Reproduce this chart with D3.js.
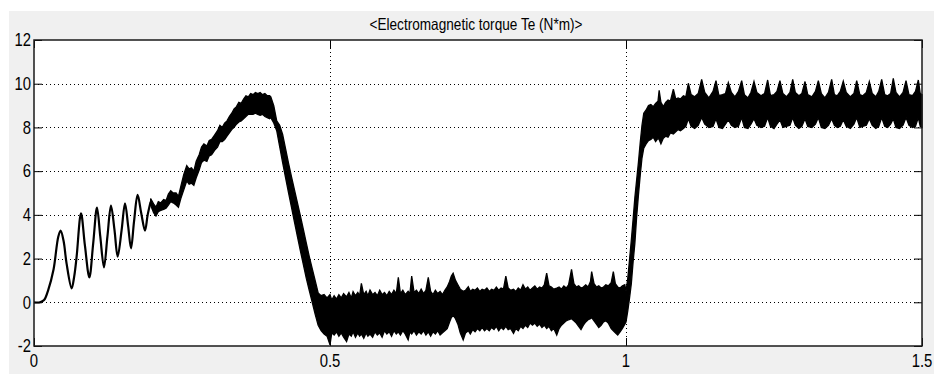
<!DOCTYPE html>
<html><head><meta charset="utf-8">
<script src="https://cdn.jsdelivr.net/npm/d3@7"></script>
<style>
html,body{margin:0;padding:0;background:#fff;}
svg{display:block;}
text{font-family:"Liberation Sans",Arial,sans-serif;fill:#000;}
</style></head>
<body>
<svg id="c" width="934" height="374"></svg>
<script>
// ---- data ----
const titleText = "<Electromagnetic torque Te (N*m)>";
const xTicks = [0, 0.5, 1, 1.5];
const xTickLabels = ["0", "0.5", "1", "1.5"];
const yTicks = [-2, 0, 2, 4, 6, 8, 10, 12];
const yTickLabels = ["-2", "0", "2", "4", "6", "8", "10", "12"];

// clean start-up oscillation (single trace)
const startT = [0, 0.010, 0.017, 0.024, 0.033, 0.041, 0.045, 0.050, 0.055, 0.0636, 0.068, 0.072, 0.0794, 0.086, 0.0935, 0.100, 0.1064, 0.112, 0.1182, 0.124, 0.130, 0.136, 0.1413, 0.148, 0.1537, 0.159, 0.1639, 0.169, 0.175, 0.181, 0.1875, 0.192, 0.197];
const startV = [0, 0, 0.10, 0.56, 1.50, 3.00, 3.28, 2.80, 1.78, 0.64, 1.20, 2.09, 4.07, 2.60, 1.14, 2.70, 4.33, 3.00, 1.60, 3.00, 4.42, 3.30, 2.09, 3.30, 4.53, 3.50, 2.47, 3.70, 4.91, 4.10, 3.28, 4.00, 4.60];

// noisy band: time, upper envelope, lower envelope
const bandT = [
0.197,0.202,0.206,0.210,0.214,0.219,0.223,0.227,0.231,0.235,0.240,0.244,0.248,0.253,0.258,0.262,0.266,0.270,0.274,0.279,0.283,0.287,0.292,0.296,0.300,0.305,0.310,0.314,0.318,0.322,0.326,0.330,0.334,0.338,0.342,0.346,0.350,0.354,0.358,0.362,0.366,0.370,0.374,0.378,0.382,0.386,0.390,0.394,0.398,
0.400,0.405,0.410,0.415,0.420,0.425,0.430,0.435,0.440,0.445,0.450,0.455,0.460,0.465,0.470,0.475,0.480,0.485,0.490,
0.495,0.500,0.503,0.507,0.511,0.515,0.519,0.523,0.528,0.532,0.536,0.539,0.543,0.547,0.550,0.553,0.557,0.561,0.564,0.5676,0.572,0.576,0.580,0.584,0.588,0.592,0.596,0.600,0.604,0.608,0.612,0.6154,0.619,0.623,0.627,0.632,0.635,0.638,0.642,0.646,0.650,0.654,0.658,0.662,0.666,0.670,0.674,0.678,0.682,0.686,0.690,0.694,0.698,0.702,0.705,0.708,0.712,0.716,0.720,0.725,0.729,0.7336,0.737,0.741,0.745,0.749,0.753,0.757,0.761,0.765,0.769,0.773,0.777,0.781,0.785,0.789,0.793,0.797,0.801,0.805,0.810,0.814,0.818,0.822,0.826,0.830,0.834,0.838,0.842,0.846,0.850,0.854,0.858,0.862,0.866,0.870,0.874,0.878,0.883,0.887,0.891,0.895,0.899,0.903,0.908,0.912,0.916,0.920,0.924,0.928,0.932,0.936,0.940,0.942,0.946,0.950,0.954,0.958,0.962,0.966,0.970,0.975,0.9786,0.982,0.986,0.990,0.994,0.998,
1.000,1.003,1.006,1.009,1.012,1.015,1.018,1.021,1.024,1.027,1.030,1.034,1.038,1.042,1.046,1.050,1.054,1.056,1.059,1.063,1.067,1.071,1.075,1.080,1.084,1.088,1.092,1.097,1.101,
1.1053,1.110,1.116,1.122,1.1278,1.133,1.140,1.147,1.152,1.157,1.163,1.168,1.1728,1.178,1.184,1.190,1.1954,1.200,1.206,1.211,1.2162,1.221,1.228,1.234,1.2393,1.244,1.250,1.255,1.260,1.265,1.271,1.277,1.2816,1.286,1.292,1.297,1.3024,1.307,1.314,1.320,1.3249,1.330,1.336,1.342,1.3474,1.352,1.357,1.362,1.367,1.372,1.379,1.385,1.3897,1.395,1.400,1.406,1.411,1.416,1.422,1.427,1.4319,1.437,1.442,1.447,1.4515,1.456,1.462,1.468,1.473,1.478,1.484,1.489,1.4938,1.497,1.500];
const bandUpper = [
4.75,4.50,4.35,4.60,4.55,4.70,4.65,4.95,5.10,5.00,5.00,4.85,5.30,5.85,6.25,6.10,6.15,6.00,6.45,6.75,7.10,7.25,7.15,7.40,7.45,7.65,7.85,8.10,8.00,8.20,8.30,8.50,8.65,8.85,8.95,9.15,9.10,9.30,9.45,9.40,9.55,9.50,9.60,9.55,9.60,9.50,9.55,9.45,9.45,
9.40,9.00,8.30,8.10,7.68,7.02,6.36,5.74,5.14,4.55,3.95,3.33,2.71,2.09,1.54,0.99,0.43,0.30,0.35,
0.20,0.35,0.10,0.30,0.15,0.35,0.20,0.40,0.25,0.45,0.20,0.49,0.30,0.45,0.30,0.87,0.35,0.50,0.30,0.56,0.35,0.45,0.30,0.55,0.35,0.45,0.30,0.50,0.35,0.55,0.40,1.14,0.40,0.55,0.35,0.50,0.40,1.20,0.45,0.55,0.40,0.60,0.40,0.55,1.14,0.50,0.35,0.55,0.40,0.50,0.35,0.55,0.70,0.95,1.20,1.33,1.00,0.80,0.60,0.50,0.55,0.71,0.50,0.60,0.55,0.65,0.50,0.60,0.55,0.65,0.50,0.60,0.55,0.70,0.55,0.65,0.60,1.20,0.65,0.55,0.60,0.50,0.65,0.55,0.80,0.60,0.70,0.55,0.65,0.75,0.60,0.70,0.65,0.80,1.33,0.75,0.70,0.60,0.65,0.70,0.60,0.75,0.65,0.80,1.51,0.85,0.70,0.75,0.65,0.70,0.80,0.70,0.95,1.40,0.85,0.70,0.75,0.65,0.70,0.80,0.75,0.90,1.40,0.85,0.70,0.65,0.75,0.80,
0.50,1.10,1.95,2.85,3.80,4.80,5.60,6.40,7.30,8.10,8.65,8.80,9.00,9.05,8.95,9.10,9.20,9.70,9.15,8.95,9.15,9.25,9.20,9.75,9.30,9.35,9.30,9.45,9.40,
10.02,9.50,9.40,9.55,10.20,9.60,9.35,9.65,10.14,9.45,9.50,9.55,10.05,9.60,9.40,9.65,10.14,9.50,9.35,9.60,10.10,9.60,9.45,9.55,10.17,9.45,9.50,9.65,10.14,9.55,9.40,9.60,10.20,9.60,9.45,9.55,10.10,9.50,9.40,9.65,10.14,9.55,9.35,9.60,10.20,9.50,9.45,9.65,10.12,9.60,9.40,9.55,10.14,9.50,9.45,9.60,10.10,9.55,9.40,9.65,10.20,9.50,9.45,9.55,10.25,9.60,9.40,9.60,10.14,9.50,9.45,9.65,10.17,9.55,9.50];
const bandLower = [
4.45,4.10,3.95,4.15,4.20,4.25,4.30,4.45,4.60,4.55,4.45,4.35,4.75,5.15,5.55,5.40,5.45,5.35,5.70,6.05,6.40,6.50,6.45,6.70,6.75,6.95,7.10,7.35,7.35,7.45,7.60,7.75,7.90,8.00,8.15,8.25,8.30,8.40,8.50,8.60,8.60,8.60,8.65,8.60,8.55,8.60,8.50,8.45,8.40,
8.45,8.20,7.85,7.12,6.39,5.69,5.01,4.34,3.67,3.01,2.35,1.72,1.09,0.54,0.00,-0.55,-1.05,-1.30,-1.45,
-1.55,-1.95,-1.40,-1.50,-1.35,-1.55,-1.40,-1.60,-1.80,-1.45,-1.55,-1.35,-1.60,-1.40,-1.55,-1.45,-1.65,-1.40,-1.55,-1.45,-1.60,-1.35,-1.50,-1.40,-1.60,-1.30,-1.45,-1.35,-1.55,-1.30,-1.45,-1.35,-1.50,-1.30,-1.45,-1.72,-1.35,-1.45,-1.30,-1.50,-1.35,-1.45,-1.30,-1.50,-1.35,-1.55,-1.35,-1.45,-1.30,-1.50,-1.40,-1.30,-1.20,-0.90,-0.70,-0.60,-0.75,-1.00,-1.40,-1.72,-1.40,-1.30,-1.45,-1.25,-1.35,-1.20,-1.30,-1.15,-1.30,-1.20,-1.30,-1.15,-1.25,-1.10,-1.30,-1.15,-1.25,-1.10,-1.25,-1.20,-1.42,-1.20,-1.30,-1.10,-1.20,-1.05,-1.15,-0.95,-1.05,-0.95,-1.10,-1.00,-1.15,-1.05,-1.20,-1.10,-1.30,-1.20,-1.50,-1.20,-1.05,-0.95,-0.85,-0.80,-0.75,-0.85,-0.95,-1.10,-1.25,-1.05,-0.90,-0.80,-0.75,-0.70,-0.85,-1.00,-1.15,-1.05,-0.90,-0.85,-0.95,-1.20,-1.30,-1.40,-1.50,-1.35,-1.20,-1.00,
-0.90,-0.40,0.20,0.85,1.85,2.70,3.92,4.90,5.80,6.60,7.05,7.25,7.40,7.45,7.55,7.35,7.50,7.45,7.25,7.50,7.60,7.55,7.75,7.70,7.80,7.90,7.85,7.95,8.05,
8.40,8.05,7.95,8.10,8.45,8.15,8.00,8.05,8.40,8.00,7.95,8.15,8.35,8.10,8.00,8.05,8.45,8.00,7.95,8.15,8.40,8.10,8.00,8.05,8.45,8.05,7.95,8.15,8.35,8.00,8.05,8.10,8.45,8.10,7.95,8.05,8.40,8.05,8.00,8.15,8.45,8.00,7.95,8.10,8.40,8.10,8.00,8.05,8.35,8.05,7.95,8.15,8.45,8.00,8.05,8.10,8.40,8.10,7.95,8.05,8.45,8.05,8.00,8.15,8.40,8.00,7.95,8.10,8.45,8.10,8.00,8.05,8.45,8.05,8.00];

// ---- layout ----
const svg = d3.select("#c");
const L = 34, R = 922, T = 40, B = 346;
const x = d3.scaleLinear().domain([0, 1.5]).range([L, R]);
const y = d3.scaleLinear().domain([-2, 12]).range([B, T]);

svg.append("rect").attr("x", 9).attr("y", 11).attr("width", 925).attr("height", 363).attr("fill", "#f0f0f0");
svg.append("rect").attr("x", L).attr("y", T).attr("width", R - L).attr("height", B - T).attr("fill", "#fff");

svg.append("text").attr("x", 476).attr("y", 30).attr("text-anchor", "middle")
  .attr("font-size", 16.5).attr("textLength", 213).attr("lengthAdjust", "spacingAndGlyphs").text(titleText);

// grid
const grid = svg.append("g").attr("stroke", "#000").attr("stroke-width", 1).attr("stroke-dasharray", "1,3");
grid.selectAll("line.gy").data(yTicks.filter(d => d > -2 && d < 12)).join("line")
  .attr("x1", L).attr("x2", R).attr("y1", d => Math.round(y(d)) + 0.5).attr("y2", d => Math.round(y(d)) + 0.5);
grid.selectAll("line.gx").data(xTicks.filter(d => d > 0 && d < 1.5)).join("line")
  .attr("x1", d => Math.round(x(d)) + 0.5).attr("x2", d => Math.round(x(d)) + 0.5).attr("y1", T).attr("y2", B);

// ticks (axes inward, on all four sides)
const tk = 8;
const yAxisL = d3.axisRight(y).tickValues(yTicks).tickSize(tk).tickFormat("");
const yAxisR = d3.axisLeft(y).tickValues(yTicks).tickSize(tk).tickFormat("");
const xAxisB = d3.axisTop(x).tickValues(xTicks).tickSize(tk).tickFormat("");
const xAxisT = d3.axisBottom(x).tickValues(xTicks).tickSize(tk).tickFormat("");
[[yAxisL, `translate(${L},0)`], [yAxisR, `translate(${R},0)`], [xAxisB, `translate(0,${B})`], [xAxisT, `translate(0,${T})`]].forEach(([ax, tr]) => {
  const g = svg.append("g").attr("transform", tr).call(ax);
  g.select(".domain").remove();
  g.selectAll("line").attr("stroke", "#000");
});

// data
const area = d3.area().x(d => x(d[0])).y0(d => y(d[2])).y1(d => y(d[1]));
const bandData = bandT.map((t, i) => [t, bandUpper[i], bandLower[i]]);
svg.append("path").datum(bandData).attr("d", area).attr("fill", "#000").attr("stroke", "#000").attr("stroke-width", 1.3).attr("stroke-linejoin", "miter");

const line = d3.line().x(d => x(d[0])).y(d => y(d[1])).curve(d3.curveCatmullRom.alpha(0.5));
svg.append("path").datum(startT.map((t, i) => [t, startV[i]])).attr("d", line)
  .attr("fill", "none").attr("stroke", "#000").attr("stroke-width", 2.2);

// frame
svg.append("rect").attr("x", L).attr("y", T).attr("width", R - L).attr("height", B - T)
  .attr("fill", "none").attr("stroke", "#1a1a1a").attr("stroke-width", 1.5);

// tick labels (narrow face)
svg.selectAll("text.yl").data(yTicks).join("text").attr("class", "yl")
  .attr("transform", d => `translate(31,${y(d)}) scale(0.85,1)`).attr("dy", "0.36em").attr("text-anchor", "end")
  .attr("font-size", 17.5).text((d, i) => yTickLabels[i]);
svg.selectAll("text.xl").data(xTicks).join("text").attr("class", "xl")
  .attr("transform", d => `translate(${x(d)},367) scale(0.85,1)`).attr("text-anchor", "middle")
  .attr("font-size", 17.5).text((d, i) => xTickLabels[i]);
</script>
</body></html>
